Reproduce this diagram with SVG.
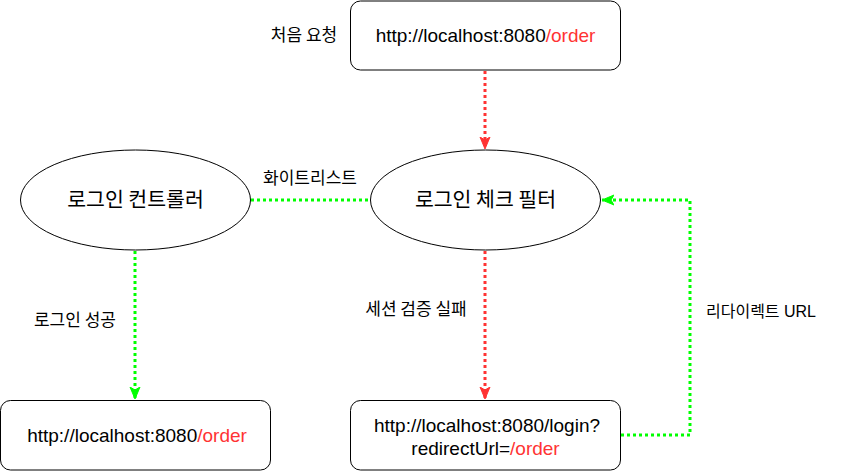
<svg xmlns="http://www.w3.org/2000/svg" width="841" height="471" viewBox="0 0 841 471">
<style>
.box{fill:#fff;stroke:#000;stroke-width:1}
.url{font-family:"Liberation Sans",Arial,sans-serif;font-size:19px;fill:#000;text-anchor:middle}
.red{fill:#FF3333}
.ko{font-family:"Noto Sans CJK KR","Noto Sans",sans-serif;font-size:20.5px;fill:#000;text-anchor:middle}
.lbl{font-family:"Noto Sans CJK KR","Noto Sans",sans-serif;font-size:17px;fill:#000;text-anchor:middle}
.lbl2{font-family:"Liberation Sans","Noto Sans CJK KR",sans-serif;font-size:16px;fill:#000;text-anchor:middle}
.cr{fill:none;stroke:#FF3333;stroke-width:3;stroke-dasharray:3 3}
.cg{fill:none;stroke:#00FF00;stroke-width:3;stroke-dasharray:3 3}
</style>
<defs>
<marker id="ar" markerUnits="userSpaceOnUse" viewBox="0 0 12 12" refX="12" refY="6" markerWidth="12" markerHeight="12" orient="auto">
<path d="M0,1 L12,6 L0,11 L3,6 Z" fill="#FF3333" stroke="#FF3333" stroke-width="1"/>
</marker>
<marker id="ag" markerUnits="userSpaceOnUse" viewBox="0 0 12 12" refX="12" refY="6" markerWidth="12" markerHeight="12" orient="auto">
<path d="M0,1 L12,6 L0,11 L3,6 Z" fill="#00FF00" stroke="#00FF00" stroke-width="1"/>
</marker>
</defs>
<g id="connectors">
<path class="cr" d="M485,71 L485,149" marker-end="url(#ar)"/>
<path class="cg" d="M251,200 L370,200"/>
<path class="cg" d="M135,251 L135,399" marker-end="url(#ag)"/>
<path class="cr" d="M485,251 L485,399" marker-end="url(#ar)"/>
<path class="cg" d="M621,435 L690,435 L690,200 L602,200" marker-end="url(#ag)"/>
<text class="lbl" x="304" y="41">처음 요청</text>
<text class="lbl" x="310" y="184">화이트리스트</text>
<text class="lbl" x="75" y="326">로그인 성공</text>
<text class="lbl" x="416" y="315">세션 검증 실패</text>
<text class="lbl2" x="761" y="317">리다이렉트 URL</text>
</g>
<g id="start">
<rect class="box" x="350.5" y="1" width="270" height="69" rx="10"/>
<text class="url" x="485.5" y="42">http://localhost:8080<tspan class="red">/order</tspan></text>
</g>
<g id="filter">
<ellipse class="box" cx="485.5" cy="200" rx="115" ry="50"/>
<text class="ko" x="485.5" y="207">로그인 체크 필터</text>
</g>
<g id="controller">
<ellipse class="box" cx="135.5" cy="200" rx="115" ry="50"/>
<text class="ko" x="135.5" y="207">로그인 컨트롤러</text>
</g>
<g id="success">
<rect class="box" x="0.5" y="400.5" width="270" height="69.5" rx="10"/>
<text class="url" x="137" y="442">http://localhost:8080<tspan class="red">/order</tspan></text>
</g>
<g id="login">
<rect class="box" x="350.5" y="400.5" width="270" height="69.5" rx="10"/>
<text class="url" x="487" y="432">http://localhost:8080/login?</text>
<text class="url" x="485.5" y="455">redirectUrl=<tspan class="red">/order</tspan></text>
</g>
</svg>
